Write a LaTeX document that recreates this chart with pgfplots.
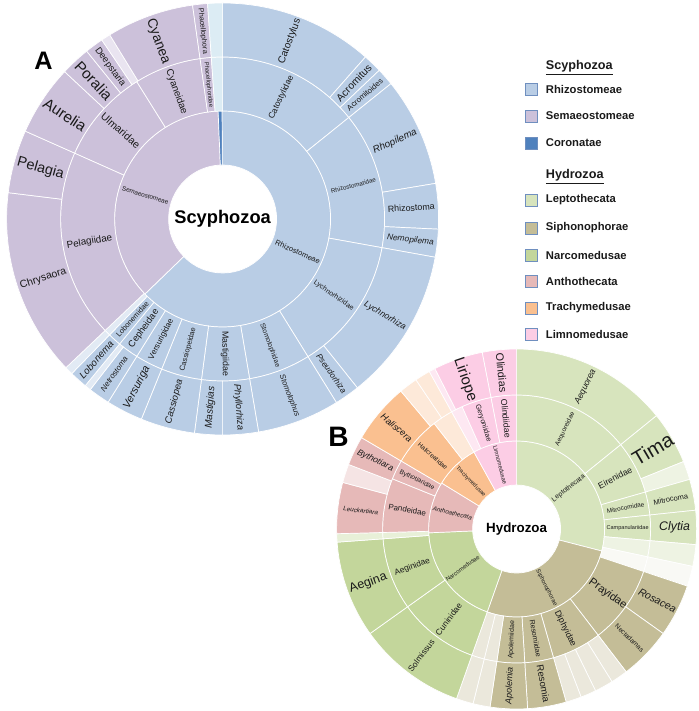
\documentclass[border=0pt]{standalone}
\usepackage{fontspec}
\setmainfont{Liberation Sans}
\usepackage{graphicx}
\usepackage{pgfplots}
\pgfplotsset{compat=1.18}
\usetikzlibrary{calc}
\definecolor{rhz}{HTML}{B9CDE5}
\definecolor{sem}{HTML}{CCC1DA}
\definecolor{cor}{HTML}{4F81BD}
\definecolor{paleA}{HTML}{E2EAF4}
\definecolor{paleT}{HTML}{DCECF4}
\definecolor{paleS}{HTML}{E9E4F0}
\definecolor{lep}{HTML}{D7E4BD}
\definecolor{palelep}{HTML}{EEF3E3}
\definecolor{sip}{HTML}{C4BD97}
\definecolor{palesip}{HTML}{EBE8DC}
\definecolor{whs}{HTML}{F9F9F5}
\definecolor{nar}{HTML}{C3D69B}
\definecolor{palenar}{HTML}{E8F0D8}
\definecolor{ant}{HTML}{E6B9B8}
\definecolor{paleant}{HTML}{F5E4E4}
\definecolor{tra}{HTML}{FAC090}
\definecolor{paletra}{HTML}{FDE9D9}
\definecolor{lim}{HTML}{FCCDE5}
\definecolor{palelim}{HTML}{FDE8F2}
\definecolor{txt}{HTML}{1A1A1A}
\definecolor{lgb}{HTML}{6F8FBF}
\newcommand\fs[1]{\fontsize{#1}{#1}\selectfont}
% wedge: start compass angle, end compass angle, inner r (mm), outer r (mm), colour
\newcommand\segA[5]{\fill[fill=#5,draw=white,line width=0.5pt] ($(axis cs:220,492)+({90-(#1)}:#3mm)$) arc[start angle={90-(#1)},end angle={90-(#2)},radius=#3mm] -- ($(axis cs:220,492)+({90-(#2)}:#4mm)$) arc[start angle={90-(#2)},end angle={90-(#1)},radius=#4mm] -- cycle;}
\newcommand\segB[5]{\fill[fill=#5,draw=white,line width=0.5pt] ($(axis cs:514,182)+({90-(#1)}:#3mm)$) arc[start angle={90-(#1)},end angle={90-(#2)},radius=#3mm] -- ($(axis cs:514,182)+({90-(#2)}:#4mm)$) arc[start angle={90-(#2)},end angle={90-(#1)},radius=#4mm] -- cycle;}
% label: compass angle, radius (mm), text width (mm), style, text
\newcommand\labA[5]{\node[rotate={mod(900-(#1),180)-90},text=txt,inner sep=0pt] at ($(axis cs:220,492)+({90-(#1)}:#2mm)$) {\resizebox{#3mm}{!}{\fs{10}#4#5}};}
\newcommand\labB[5]{\node[rotate={mod(900-(#1),180)-90},text=txt,inner sep=0pt] at ($(axis cs:514,182)+({90-(#1)}:#2mm)$) {\resizebox{#3mm}{!}{\fs{10}#4#5}};}
\newcommand\legsq[3]{\fill[fill=#2,draw=lgb,line width=0.5pt] ($(axis cs:529,#1)+(-1.5mm,-1.5mm)$) rectangle ($(axis cs:529,#1)+(1.5mm,1.5mm)$);
\node[anchor=west,font={\fs{8}\bfseries},text=txt,inner sep=0pt] at (axis cs:543,#1) {#3};}
\begin{document}
\begin{tikzpicture}
\begin{axis}[x=0.25mm,y=0.25mm,xmin=0,xmax=696,ymin=0,ymax=711,hide axis,clip=false]
\addplot[draw=none] coordinates {(0,0) (696,711)};
% ---------------- Panel A : Scyphozoa ----------------
% ring 1 (orders)
\segA{-0.3}{226}{13.5}{27}{rhz}
\segA{226}{357.6}{13.5}{27}{sem}
\segA{357.6}{359.7}{13.5}{27}{cor}
% ring 2 (families)
\segA{0}{51.2}{27}{40.5}{rhz}
\segA{51.2}{100.2}{27}{40.5}{rhz}
\segA{100.2}{148.2}{27}{40.5}{rhz}
\segA{148.2}{170.4}{27}{40.5}{rhz}
\segA{170.4}{187.5}{27}{40.5}{rhz}
\segA{187.5}{202.1}{27}{40.5}{rhz}
\segA{202.1}{212}{27}{40.5}{rhz}
\segA{212}{219.5}{27}{40.5}{rhz}
\segA{219.5}{224.3}{27}{40.5}{rhz}
\segA{224.3}{226.5}{27}{40.5}{paleA}
\segA{226.5}{294}{27}{40.5}{sem}
\segA{294}{328}{27}{40.5}{sem}
\segA{328}{352}{27}{40.5}{sem}
\segA{352}{356}{27}{40.5}{sem}
\segA{356}{360}{27}{40.5}{paleT}
% ring 3 (genera)
\segA{0}{41.4}{40.5}{54}{rhz}
\segA{41.4}{46.5}{40.5}{54}{rhz}
\segA{46.5}{51.2}{40.5}{54}{rhz}
\segA{51.2}{80.5}{40.5}{54}{rhz}
\segA{80.5}{92.7}{40.5}{54}{rhz}
\segA{92.7}{100.2}{40.5}{54}{rhz}
\segA{100.2}{141.4}{40.5}{54}{rhz}
\segA{141.4}{148.2}{40.5}{54}{rhz}
\segA{148.2}{170.4}{40.5}{54}{rhz}
\segA{170.4}{180}{40.5}{54}{rhz}
\segA{180}{187.5}{40.5}{54}{rhz}
\segA{187.5}{202.1}{40.5}{54}{rhz}
\segA{202.1}{212}{40.5}{54}{rhz}
\segA{212}{217.8}{40.5}{54}{rhz}
\segA{217.8}{219.5}{40.5}{54}{paleA}
\segA{219.5}{224.3}{40.5}{54}{rhz}
\segA{224.3}{226.5}{40.5}{54}{paleA}
\segA{226.5}{277}{40.5}{54}{sem}
\segA{277}{294}{40.5}{54}{sem}
\segA{294}{313}{40.5}{54}{sem}
\segA{313}{321}{40.5}{54}{sem}
\segA{321}{326}{40.5}{54}{sem}
\segA{326}{328.5}{40.5}{54}{paleS}
\segA{328.5}{352}{40.5}{54}{sem}
\segA{352}{356}{40.5}{54}{sem}
\segA{356}{360}{40.5}{54}{paleT}
% labels A
\node[font={\fs{13}\bfseries},text=black] at (axis cs:220,492) {Scyphozoa};
\labA{113.7}{20.5}{12}{}{Rhizostomeae}
\labA{287}{20.2}{12}{}{Semaeostomeae}
\labA{25.8}{33.75}{11.75}{}{Catostylidae}
\labA{75.6}{33.75}{11.5}{}{Rhizostomatidae}
\labA{124.6}{33.75}{11.75}{}{Lychnorhizidae}
\labA{159.5}{33.75}{11.5}{}{Stomolophidae}
\labA{179}{33.75}{11.25}{}{Mastigiidae}
\labA{194.8}{33.75}{11.25}{}{Cassiopeidae}
\labA{207}{33.75}{11.25}{}{Versurigidae}
\labA{215.7}{33.75}{11.25}{}{Cepheidae}
\labA{221.9}{33.75}{11.25}{}{Lobonemidae}
\labA{260.3}{33.75}{11.5}{}{Pelagiidae}
\labA{311}{33.75}{12}{}{Ulmaridae}
\labA{340}{33.75}{11.75}{}{Cyaneidae}
\labA{354}{33.75}{11.25}{}{Phacellophoridae}
\labA{20.7}{47.5}{11.75}{}{Catostylus}
\labA{44}{47.25}{11.5}{}{Acromitus}
\labA{48.8}{47.25}{11.25}{}{Acromitoides}
\labA{65.8}{47.25}{11.75}{\itshape}{Rhopilema}
\labA{86.6}{47.25}{11.75}{}{Rhizostoma}
\labA{96.4}{47.25}{11.75}{\itshape}{Nemopilema}
\labA{120.8}{47.25}{11.75}{\itshape}{Lychnorhiza}
\labA{144.8}{47.25}{11.5}{\itshape}{Pseudorhiza}
\labA{159.3}{47.25}{11.25}{\itshape}{Stomolophus}
\labA{175.2}{47.25}{11.5}{\itshape}{Phyllorhiza}
\labA{183.7}{47.25}{10.5}{\itshape}{Mastigias}
\labA{194.8}{47.25}{11.25}{\itshape}{Cassiopea}
\labA{207}{47.25}{11.5}{\itshape}{Versuriga}
\labA{215}{47.25}{10.25}{\itshape}{Netrostoma}
\labA{221.9}{47.25}{11.5}{\itshape}{Lobonema}
\labA{251.7}{47.25}{12}{}{Chrysaora}
\labA{285.5}{47.25}{12}{}{Pelagia}
\labA{303.5}{47.25}{12}{}{Aurelia}
\labA{317}{47.25}{11.75}{}{Poralia}
\labA{323.5}{47.25}{11.25}{}{Deepstaria}
\labA{340}{47.25}{11.75}{}{Cyanea}
\labA{354}{47.25}{11.5}{}{Phacellophora}
% ---------------- Panel B : Hydrozoa ----------------
% ring 1
\segB{0}{104.5}{11}{22}{lep}
\segB{104.5}{199.5}{11}{22}{sip}
\segB{199.5}{267.5}{11}{22}{nar}
\segB{267.5}{301.5}{11}{22}{ant}
\segB{301.5}{331}{11}{22}{tra}
\segB{331}{360}{11}{22}{lim}
% ring 2
\segB{0}{51}{22}{33.5}{lep}
\segB{51}{74}{22}{33.5}{lep}
\segB{74}{84}{22}{33.5}{lep}
\segB{84}{95}{22}{33.5}{lep}
\segB{95}{102}{22}{33.5}{palelep}
\segB{102}{108.5}{22}{33.5}{whs}
\segB{108.5}{142.5}{22}{33.5}{sip}
\segB{142.5}{164}{22}{33.5}{sip}
\segB{164}{176.5}{22}{33.5}{sip}
\segB{176.5}{188.5}{22}{33.5}{sip}
\segB{188.5}{194}{22}{33.5}{palesip}
\segB{194}{199.5}{22}{33.5}{palesip}
\segB{199.5}{234.5}{22}{33.5}{nar}
\segB{234.5}{265.8}{22}{33.5}{nar}
\segB{265.8}{268.5}{22}{33.5}{palenar}
\segB{268.5}{292}{22}{33.5}{ant}
\segB{292}{300.5}{22}{33.5}{ant}
\segB{300.5}{322}{22}{33.5}{tra}
\segB{322}{331}{22}{33.5}{paletra}
\segB{331}{336}{22}{33.5}{palelim}
\segB{336}{349}{22}{33.5}{lim}
\segB{349}{360}{22}{33.5}{lim}
% ring 3
\segB{0}{51}{33.5}{45}{lep}
\segB{51}{68}{33.5}{45}{lep}
\segB{68}{74}{33.5}{45}{palelep}
\segB{74}{84}{33.5}{45}{lep}
\segB{84}{95}{33.5}{45}{lep}
\segB{95}{102}{33.5}{45}{palelep}
\segB{102}{108.5}{33.5}{45}{whs}
\segB{108.5}{125.5}{33.5}{45}{sip}
\segB{125.5}{142.5}{33.5}{45}{sip}
\segB{142.5}{148}{33.5}{45}{palesip}
\segB{148}{154}{33.5}{45}{palesip}
\segB{154}{159}{33.5}{45}{palesip}
\segB{159}{164}{33.5}{45}{palesip}
\segB{164}{176.5}{33.5}{45}{sip}
\segB{176.5}{188.5}{33.5}{45}{sip}
\segB{188.5}{194}{33.5}{45}{palesip}
\segB{194}{199.5}{33.5}{45}{palesip}
\segB{199.5}{234.5}{33.5}{45}{nar}
\segB{234.5}{265.8}{33.5}{45}{nar}
\segB{265.8}{268.5}{33.5}{45}{palenar}
\segB{268.5}{285}{33.5}{45}{ant}
\segB{285}{291}{33.5}{45}{paleant}
\segB{291}{300.5}{33.5}{45}{ant}
\segB{300.5}{320}{33.5}{45}{tra}
\segB{320}{326}{33.5}{45}{paletra}
\segB{326}{331}{33.5}{45}{paletra}
\segB{331}{333}{33.5}{45}{palelim}
\segB{333}{349}{33.5}{45}{lim}
\segB{349}{360}{33.5}{45}{lim}
% labels B
\node[font={\fs{9.5}\bfseries},text=black] at (axis cs:514,182) {Hydrozoa};
\labB{52}{16.5}{10}{}{Leptothecata}
\labB{153}{16.5}{10}{}{Siphonophorae}
\labB{234}{16.7}{10}{}{Narcomedusae}
\labB{284}{16.5}{10}{\itshape}{Anthoathecata}
\labB{316}{16.5}{10}{}{Trachymedusae}
\labB{345.5}{16.5}{10}{}{Limnomedusae}
\labB{25.9}{27.75}{9.25}{}{Aequoreidae}
\labB{62.5}{27.75}{9.25}{}{Eirenidae}
\labB{79}{27.75}{9.5}{}{Mitrocomidae}
\labB{89.5}{27.75}{10.5}{}{Campanulariidae}
\labB{125.5}{28}{11}{}{Prayidae}
\labB{154}{27.75}{9.75}{}{Diphyidae}
\labB{170.2}{27.75}{9.5}{}{Resomiidae}
\labB{182.5}{27.75}{9.5}{}{Apolemiidae}
\labB{217}{28.2}{9.5}{}{Cuninidae}
\labB{250}{27.75}{9.25}{}{Aeginidae}
\labB{280}{27.75}{9.5}{}{Pandeidae}
\labB{296.2}{27.75}{9.5}{}{Bythotiaridae}
\labB{311}{27.75}{9.25}{}{Halicreatidae}
\labB{342.5}{27.75}{9.75}{}{Geryoniidae}
\labB{354.5}{27.75}{9.75}{}{Olindiidae}
\labB{25.9}{39.5}{9.5}{\itshape}{Aequorea}
\labB{59.5}{39.5}{11}{}{Tima}
\labB{79}{39.25}{8.75}{}{Mitrocoma}
\labB{89.5}{39.5}{7.75}{\itshape}{Clytia}
\labB{117}{39.5}{10.25}{\itshape}{Rosacea}
\labB{134}{39.25}{9.25}{}{Nectadamas}
\labB{170.2}{39.25}{9.5}{}{Resomia}
\labB{182.5}{39.25}{9.25}{\itshape}{Apolemia}
\labB{217}{39.6}{9.5}{}{Solmissus}
\labB{250}{39.5}{9.75}{}{Aegina}
\labB{276.7}{39.25}{8.75}{\itshape}{Leuckartiara}
\labB{295.8}{39.25}{9.75}{\itshape}{Bythotiara}
\labB{310.2}{39.25}{9.5}{\itshape}{Haliscera}
\labB{341}{39.5}{11.25}{}{Liriope}
\labB{354.5}{39.25}{9.75}{}{Olindias}
% panel letters
\node[font={\fs{18}\bfseries}] at (axis cs:41,650) {A};
\node[font={\fs{20}\bfseries}] at (axis cs:336,274) {B};
% legend
\node[anchor=west,font={\fs{9}\bfseries},text=txt,inner sep=0pt] at (axis cs:543,643) {\underline{Scyphozoa}};
\legsq{622}{rhz}{Rhizostomeae}
\legsq{595}{sem}{Semaeostomeae}
\legsq{568}{cor}{Coronatae}
\node[anchor=west,font={\fs{9}\bfseries},text=txt,inner sep=0pt] at (axis cs:543,534) {\underline{Hydrozoa}};
\legsq{511}{lep}{Leptothecata}
\legsq{483}{sip}{Siphonophorae}
\legsq{456}{nar}{Narcomedusae}
\legsq{430}{ant}{Anthothecata}
\legsq{403}{tra}{Trachymedusae}
\legsq{377}{lim}{Limnomedusae}
\end{axis}
\end{tikzpicture}
\end{document}
